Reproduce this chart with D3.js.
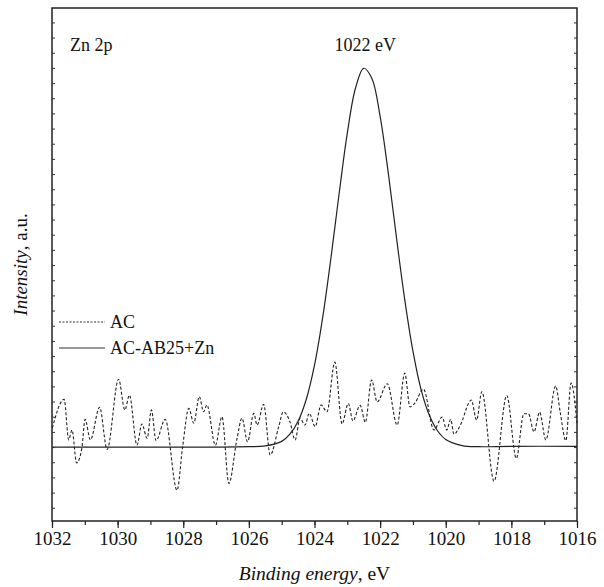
<!DOCTYPE html>
<html>
<head>
<meta charset="utf-8">
<script src="https://cdn.jsdelivr.net/npm/d3@7/dist/d3.min.js"></script>
<style>
  body { margin: 0; background: #fff; }
  text { font-family: "Liberation Serif", "DejaVu Serif", serif; fill: #111; }
</style>
</head>
<body>
<div id="chart"></div>
<script>
// AC sample (dashed): binding energy, eV / intensity, a.u.
var acEnergy = [1031.99, 1031.63, 1031.49, 1031.39, 1031.25, 1031.09, 1030.99, 1030.83, 1030.55, 1030.32,
  1029.97, 1029.78, 1029.64, 1029.41, 1029.26, 1029.10, 1028.97, 1028.83, 1028.55, 1028.19,
  1028.02, 1027.83, 1027.68, 1027.51, 1027.38, 1027.28, 1027.02, 1026.82, 1026.61, 1026.36,
  1026.21, 1026.04, 1025.85, 1025.75, 1025.55, 1025.35, 1025.09, 1024.95, 1024.75, 1024.59,
  1024.44, 1024.29, 1024.16, 1023.98, 1023.80, 1023.62, 1023.38, 1023.16, 1022.97, 1022.83,
  1022.61, 1022.45, 1022.26, 1022.09, 1021.78, 1021.48, 1021.25, 1021.09, 1020.94, 1020.68,
  1020.36, 1020.11, 1019.97, 1019.85, 1019.75, 1019.57, 1019.22, 1019.06, 1018.90, 1018.53,
  1018.14, 1017.85, 1017.62, 1017.48, 1017.31, 1017.14, 1016.95, 1016.65, 1016.51, 1016.34,
  1016.18, 1016.00];
var acIntensity = [5.0, 12.6, 1.9, 4.5, -4.2, -0.3, 7.3, 1.9, 10.5, -0.6,
  17.9, 9.8, 13.7, 0.5, 6.1, 2.3, 9.8, 1.7, 7.3, -11.4,
  0.0, 10.2, 6.3, 13.3, 9.3, 11.1, 0.5, 8.0, -9.6, 2.3,
  7.6, 1.4, 8.9, 5.8, 11.3, -2.1, 5.4, 9.3, 6.7, 1.9,
  7.6, 5.8, 8.9, 5.4, 11.1, 9.3, 22.4, 6.1, 11.5, 6.9,
  11.0, 6.5, 17.7, 11.9, 16.7, 5.8, 19.5, 10.6, 11.6, 15.3,
  4.5, 7.9, 4.5, 7.3, 3.4, 5.5, 12.4, 7.1, 14.6, -9.0,
  13.6, -3.0, 8.8, 8.8, 4.0, 9.2, 1.9, 16.1, 9.1, 1.7,
  16.9, 6.3];

// AC-AB25+Zn (solid)
var znEnergy = [1032, 1027, 1026, 1025.5, 1025, 1024.75, 1024.5, 1024.25, 1024, 1023.75,
  1023.5, 1023.25, 1023, 1022.75, 1022.5, 1022.25, 1022, 1021.75, 1021.5, 1021.25,
  1021, 1020.75, 1020.5, 1020.25, 1020, 1019.5, 1019, 1018, 1016];
var znIntensity = [0, 0, 0.1, 0.3, 1.5, 3.4, 6.8, 12.6, 21.6, 34.2,
  49.8, 66.8, 82.8, 94.7, 99.9, 97.2, 87.2, 72.2, 55.1, 38.9,
  25.3, 15.1, 8.4, 4.3, 2.0, 0.4, 0.1, 0.2, 0.2];

var xTicks = [1032, 1030, 1028, 1026, 1024, 1022, 1020, 1018, 1016];
var legendLabels = ["AC", "AC-AB25+Zn"];

var svgWidth = 604, svgHeight = 587;
var margin = { top: 8, right: 27, bottom: 66, left: 52 };
var w = svgWidth - margin.left - margin.right;
var h = svgHeight - margin.top - margin.bottom;

var svg = d3.select("#chart").append("svg")
  .attr("width", svgWidth)
  .attr("height", svgHeight);

var g = svg.append("g")
  .attr("transform", "translate(" + margin.left + "," + margin.top + ")");

var x = d3.scaleLinear().domain([1032, 1016]).range([0, w]);
var y = d3.scaleLinear().domain([-19.5, 115.8]).range([h, 0]);

// lines
var acLine = d3.line()
  .x(function(d, i) { return x(acEnergy[i]); })
  .y(function(d) { return y(d); })
  .curve(d3.curveMonotoneX);

var znLine = d3.line()
  .x(function(d, i) { return x(znEnergy[i]); })
  .y(function(d) { return y(d); })
  .curve(d3.curveCatmullRom);

g.append("path")
  .attr("d", acLine(acIntensity))
  .attr("fill", "none")
  .attr("stroke", "#222")
  .attr("stroke-width", 1.1)
  .attr("stroke-dasharray", "3,2");

g.append("path")
  .attr("d", znLine(znIntensity))
  .attr("fill", "none")
  .attr("stroke", "#222")
  .attr("stroke-width", 1.2);

// frame
g.append("rect")
  .attr("width", w).attr("height", h)
  .attr("fill", "none")
  .attr("stroke", "#222")
  .attr("stroke-width", 1.5);

// y ticks (no labels), inside on both sides
var yTickVals = d3.range(-16, 116, 4);
g.append("g")
  .call(d3.axisRight(y).tickValues(yTickVals).tickSize(3).tickFormat(""))
  .call(function(a) { a.select(".domain").remove(); a.selectAll("line").attr("stroke", "#333"); });
g.append("g")
  .attr("transform", "translate(" + w + ",0)")
  .call(d3.axisLeft(y).tickValues(yTickVals).tickSize(3).tickFormat(""))
  .call(function(a) { a.select(".domain").remove(); a.selectAll("line").attr("stroke", "#333"); });

// x axis
var xAxis = g.append("g").attr("transform", "translate(0," + h + ")");
xAxis.call(d3.axisBottom(x).tickValues(d3.range(1032, 1015, -1)).tickSize(4).tickFormat(""))
  .call(function(a) { a.select(".domain").remove(); a.selectAll("line").attr("stroke", "#222").attr("stroke-width", 1.2); });
var xMajor = g.append("g").attr("transform", "translate(0," + h + ")");
xMajor.call(d3.axisBottom(x).tickValues(xTicks).tickSize(7).tickPadding(4).tickFormat(d3.format("d")))
  .call(function(a) {
    a.select(".domain").remove();
    a.selectAll("line").attr("stroke", "#222").attr("stroke-width", 1.2);
    a.selectAll("text").attr("font-size", 19).attr("font-family", "Liberation Serif").attr("fill", "#111");
  });

// axis titles
var xt = svg.append("text")
  .attr("x", margin.left + w / 2)
  .attr("y", 580)
  .attr("text-anchor", "middle")
  .attr("font-size", 19.5);
xt.append("tspan").attr("font-style", "italic").text("Binding energy");
xt.append("tspan").text(", eV");

var yt = svg.append("text")
  .attr("transform", "translate(27," + (margin.top + h / 2) + ") rotate(-90)")
  .attr("text-anchor", "middle")
  .attr("font-size", 19);
yt.append("tspan").attr("font-style", "italic").text("Intensity");
yt.append("tspan").text(", a.u.");

// annotations
g.append("text").attr("x", 18).attr("y", 43).attr("font-size", 18).text("Zn 2p");
g.append("text").attr("x", x(1022.45)).attr("y", 43).attr("text-anchor", "middle").attr("font-size", 18).text("1022 eV");

// legend
var legend = g.append("g").attr("transform", "translate(7,314)");
legendLabels.forEach(function(lbl, i) {
  var row = legend.append("g").attr("transform", "translate(0," + i * 26 + ")");
  row.append("line")
    .attr("x1", 0).attr("x2", 46).attr("y1", 0).attr("y2", 0)
    .attr("stroke", "#333").attr("stroke-width", 1.1)
    .attr("stroke-dasharray", i === 0 ? "2,1.5" : null);
  row.append("text").attr("x", 51).attr("y", 6).attr("font-size", 18).text(lbl);
});
</script>
</body>
</html>
